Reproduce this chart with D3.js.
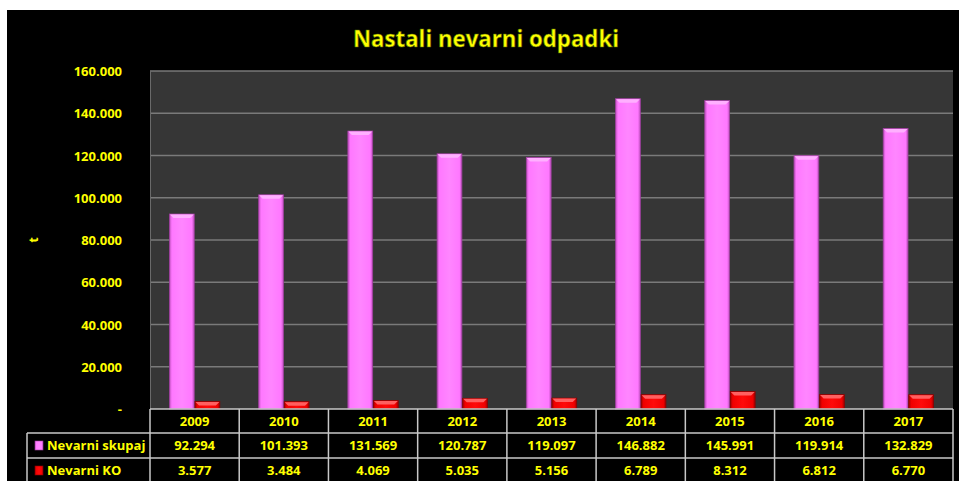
<!DOCTYPE html>
<html>
<head>
<meta charset="utf-8">
<script src="https://cdn.jsdelivr.net/npm/d3@7"></script>
<style>
  body { margin: 0; background: #fff; }
  svg { display: block; }
  text { font-family: "Open Sans", "DejaVu Sans", sans-serif; font-weight: bold; fill: #ffff00; }
</style>
</head>
<body>
<div id="chart"></div>
<script>
(function () {

    const years = ['2009', '2010', '2011', '2012', '2013', '2014', '2015', '2016', '2017']
    const skupaj = [92294, 101393, 131569, 120787, 119097, 146882, 145991, 119914, 132829]
    const ko = [3577, 3484, 4069, 5035, 5156, 6789, 8312, 6812, 6770]
    const seriesNames = ['Nevarni skupaj', 'Nevarni KO']
    const yTicks = [0, 20000, 40000, 60000, 80000, 100000, 120000, 140000, 160000]

    const width = 959, height = 481
    const left = 150, right = 953, top = 71, bottom = 409

    const fmt = v => v === 0 ? '-' : d3.format(',')(v).replace(/,/g, '.')

    const svg = d3.select('#chart')
        .append('svg')
        .attr('width', width)
        .attr('height', height)

    // black chart background, white strip at top and left
    svg.append('rect')
        .attr('x', 7).attr('y', 10)
        .attr('width', width - 7).attr('height', height - 10)
        .attr('fill', '#000')

    const defs = svg.append('defs')
    function grad(id, dark, mid, light) {
        const g = defs.append('linearGradient').attr('id', id)
            .attr('x1', 0).attr('x2', 1).attr('y1', 0).attr('y2', 0)
        g.append('stop').attr('offset', '0%').attr('stop-color', dark)
        g.append('stop').attr('offset', '10%').attr('stop-color', mid)
        g.append('stop').attr('offset', '50%').attr('stop-color', light)
        g.append('stop').attr('offset', '90%').attr('stop-color', mid)
        g.append('stop').attr('offset', '100%').attr('stop-color', dark)
    }
    grad('gPink', '#c050c0', '#ff78ff', '#ff86ff')
    grad('gRed', '#a00000', '#f00000', '#ff0a0a')

    const x = d3.scaleBand()
        .domain(years)
        .range([left, right])

    const y = d3.scaleLinear()
        .domain([0, 160000])
        .range([bottom, top])

    // plot area
    svg.append('rect')
        .attr('x', left).attr('y', top)
        .attr('width', right - left).attr('height', bottom - top)
        .attr('fill', '#363636')

    svg.append('g')
        .selectAll('line')
        .data(yTicks.filter(d => d > 0))
        .join('line')
        .attr('x1', left).attr('x2', right)
        .attr('y1', d => y(d)).attr('y2', d => y(d))
        .attr('stroke', '#7a7a7a')
        .attr('stroke-width', 1.5)

    svg.append('line')
        .attr('x1', left + 0.5).attr('x2', left + 0.5)
        .attr('y1', top).attr('y2', bottom)
        .attr('stroke', '#6a6a6a')

    // y axis labels
    svg.append('g')
        .selectAll('text')
        .data(yTicks)
        .join('text')
        .attr('x', 122)
        .attr('y', d => y(d) + 5)
        .attr('text-anchor', 'end')
        .attr('font-size', 13)
        .text(fmt)

    svg.append('text')
        .attr('transform', 'translate(38,240) rotate(-90)')
        .attr('text-anchor', 'middle')
        .attr('font-size', 12)
        .text('t')

    // title
    svg.append('text')
        .attr('x', 486).attr('y', 47)
        .attr('text-anchor', 'middle')
        .attr('font-size', 23)
        .attr('textLength', 266)
        .attr('lengthAdjust', 'spacingAndGlyphs')
        .attr('stroke', '#556b00')
        .attr('stroke-width', 0.6)
        .text('Nastali nevarni odpadki')

    // bars
    const inner = d3.scaleBand()
        .domain([0, 1])
        .range([0, x.bandwidth()])
        .paddingInner(0.03)
        .paddingOuter(0.76)

    const series = [
        { values: skupaj, fill: 'url(#gPink)', cap: '#ffb0ff', edge: '#a040a0' },
        { values: ko, fill: 'url(#gRed)', cap: '#ff6060', edge: '#900000' }
    ]

    series.forEach((s, i) => {
        const g = svg.append('g')
        const bx = (d, j) => x(years[j]) + inner(i)
        const bw = inner.bandwidth()
        g.selectAll('rect.bar')
            .data(s.values)
            .join('rect')
            .attr('class', 'bar')
            .attr('x', bx)
            .attr('y', d => y(d))
            .attr('width', bw)
            .attr('height', d => bottom - y(d))
            .attr('fill', s.fill)
            .attr('stroke', s.edge)
            .attr('stroke-width', 0.8)
        // bevelled top
        g.selectAll('path.cap')
            .data(s.values)
            .join('path')
            .attr('class', 'cap')
            .attr('d', (d, j) => {
                const x0 = bx(d, j), y0 = y(d)
                return `M${x0 + 0.5},${y0 + 0.5}L${x0 + bw - 0.5},${y0 + 0.5}L${x0 + bw - 4},${y0 + 4}L${x0 + 4},${y0 + 4}Z`
            })
            .attr('fill', s.cap)
    })

    // data table
    const rowH = [24, 25, 25]
    const rowY = [bottom, bottom + rowH[0], bottom + rowH[0] + rowH[1]]
    const legendX = 27
    const lineCol = '#c8c8c8'

    const table = svg.append('g')
    // horizontal lines
    table.append('line').attr('x1', left).attr('x2', right)
        .attr('y1', rowY[0]).attr('y2', rowY[0]).attr('stroke', lineCol).attr('stroke-width', 1.5)
    table.append('line').attr('x1', legendX).attr('x2', right)
        .attr('y1', rowY[1]).attr('y2', rowY[1]).attr('stroke', lineCol).attr('stroke-width', 1.5)
    table.append('line').attr('x1', legendX).attr('x2', right)
        .attr('y1', rowY[2]).attr('y2', rowY[2]).attr('stroke', lineCol).attr('stroke-width', 1.5)
    // vertical lines
    table.selectAll('line.v')
        .data(years.concat(['end']))
        .join('line')
        .attr('class', 'v')
        .attr('x1', d => d === 'end' ? right : x(d))
        .attr('x2', d => d === 'end' ? right : x(d))
        .attr('y1', rowY[0]).attr('y2', height)
        .attr('stroke', lineCol).attr('stroke-width', 1.5)
    table.append('line').attr('x1', legendX).attr('x2', legendX)
        .attr('y1', rowY[1]).attr('y2', height).attr('stroke', lineCol).attr('stroke-width', 1.5)

    table.selectAll('text.yr')
        .data(years)
        .join('text')
        .attr('class', 'yr')
        .attr('x', d => x(d) + x.bandwidth() / 2)
        .attr('y', rowY[0] + 17)
        .attr('text-anchor', 'middle')
        .attr('font-size', 13)
        .text(d => d)

    ;[skupaj, ko].forEach((vals, i) => {
        table.selectAll('text.v' + i)
            .data(vals)
            .join('text')
            .attr('class', 'v' + i)
            .attr('x', (d, j) => x(years[j]) + x.bandwidth() / 2)
            .attr('y', rowY[i + 1] + 17)
            .attr('text-anchor', 'middle')
            .attr('font-size', 13)
            .text(fmt)
    })

    // legend keys
    const keyFill = ['url(#gPink)', 'url(#gRed)']
    const keyEdge = ['#a040a0', '#900000']
    seriesNames.forEach((name, i) => {
        table.append('rect')
            .attr('x', 35).attr('y', rowY[i + 1] + 8)
            .attr('width', 8).attr('height', 9)
            .attr('fill', keyFill[i])
            .attr('stroke', keyEdge[i]).attr('stroke-width', 0.6)
        table.append('text')
            .attr('x', 47).attr('y', rowY[i + 1] + 17)
            .attr('font-size', 13)
            .text(name)
    })

})();
</script>
</body>
</html>
